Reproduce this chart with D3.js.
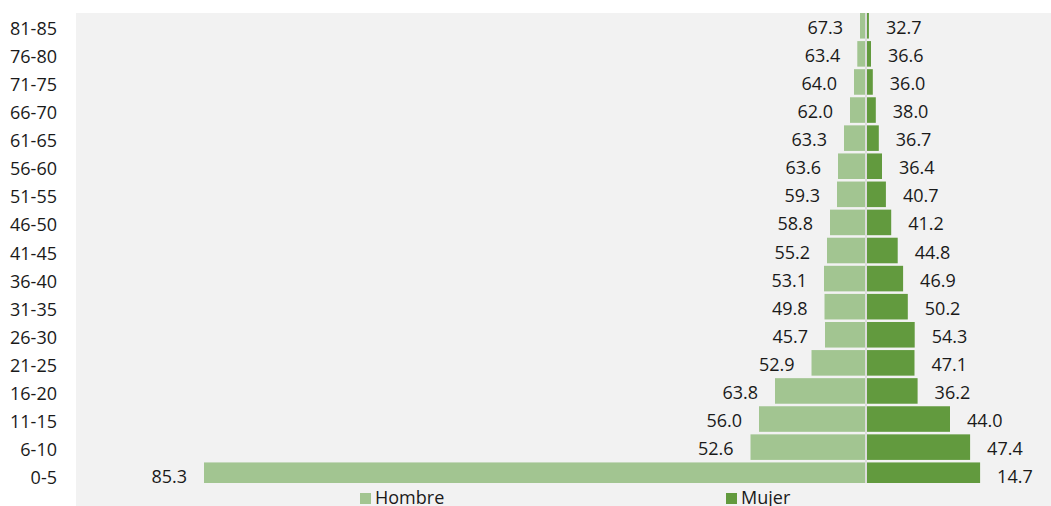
<!DOCTYPE html>
<html>
<head>
<meta charset="utf-8">
<script src="https://cdn.jsdelivr.net/npm/d3@7"></script>
<style>
  html, body { margin: 0; padding: 0; background: #ffffff; }
  svg { display: block; font-family: "Open Sans", "Noto Sans", sans-serif; }
</style>
</head>
<body>
<svg id="chart" width="1051" height="506"></svg>
<script>
// Age groups, top to bottom
const ageGroups = ["81-85","76-80","71-75","66-70","61-65","56-60","51-55","46-50","41-45","36-40","31-35","26-30","21-25","16-20","11-15","6-10","0-5"];
// Bar sizes (estimated population units)
const hombreValues = [6.0, 8.7, 12.0, 16.0, 22.0, 28.0, 29.0, 36.0, 39.0, 42.0, 41.5, 41.0, 54.5, 91.0, 107.0, 115.5, 662.0];
const mujerValues  = [2.9, 5.0, 6.8, 9.8, 12.8, 16.0, 19.9, 25.2, 31.7, 37.1, 41.8, 48.7, 48.5, 51.6, 84.0, 104.1, 114.1];
// Percentage labels
const hombreLabels = ["67.3","63.4","64.0","62.0","63.3","63.6","59.3","58.8","55.2","53.1","49.8","45.7","52.9","63.8","56.0","52.6","85.3"];
const mujerLabels  = ["32.7","36.6","36.0","38.0","36.7","36.4","40.7","41.2","44.8","46.9","50.2","54.3","47.1","36.2","44.0","47.4","14.7"];
const seriesNames = ["Hombre", "Mujer"];
const seriesColors = ["#a2c591", "#629a3e"];

const W = 1051, H = 506;
const plotLeft = 76, plotTop = 13, plotBottom = 483;
const svg = d3.select("#chart");

// background
svg.append("rect").attr("x", plotLeft).attr("y", plotTop)
  .attr("width", W - plotLeft).attr("height", H - plotTop).attr("fill", "#f2f2f2");

const x = d3.scaleLinear().domain([-790, 185]).range([plotLeft, W]);
const y = d3.scaleBand().domain(ageGroups).range([13, 488]).paddingInner(0.09).paddingOuter(0);

svg.append("clipPath").attr("id", "plotclip").append("rect")
  .attr("x", plotLeft).attr("y", plotTop).attr("width", W - plotLeft).attr("height", plotBottom - plotTop);

const plot = svg.append("g").attr("clip-path", "url(#plotclip)");

const rows = ageGroups.map((g, i) => ({ g, h: hombreValues[i], m: mujerValues[i], hl: hombreLabels[i], ml: mujerLabels[i] }));

plot.selectAll("rect.h").data(rows).join("rect").attr("class", "h")
  .attr("x", d => x(-d.h)).attr("y", d => y(d.g))
  .attr("width", d => x(0) - x(-d.h)).attr("height", y.bandwidth())
  .attr("fill", seriesColors[0]);

plot.selectAll("rect.m").data(rows).join("rect").attr("class", "m")
  .attr("x", x(0)).attr("y", d => y(d.g))
  .attr("width", d => x(d.m) - x(0)).attr("height", y.bandwidth())
  .attr("fill", seriesColors[1]);

// center line
plot.append("line").attr("x1", x(0)).attr("x2", x(0)).attr("y1", plotTop).attr("y2", plotBottom)
  .attr("stroke", "#dcdcdc").attr("stroke-width", 2);

// value labels
const labelFont = 18;
svg.selectAll("text.hl").data(rows).join("text").attr("class", "hl")
  .attr("x", d => x(-d.h) - 17).attr("y", d => y(d.g) + y.bandwidth() / 2 + 1)
  .attr("text-anchor", "end").attr("dominant-baseline", "central")
  .attr("font-size", labelFont).attr("fill", "#1a1a1a").text(d => d.hl);

svg.selectAll("text.ml").data(rows).join("text").attr("class", "ml")
  .attr("x", d => x(d.m) + 17).attr("y", d => y(d.g) + y.bandwidth() / 2 + 1)
  .attr("text-anchor", "start").attr("dominant-baseline", "central")
  .attr("font-size", labelFont).attr("fill", "#1a1a1a").text(d => d.ml);

// y axis
const yAxis = d3.axisLeft(y).tickSize(0).tickPadding(0);
const ga = svg.append("g").attr("transform", "translate(57,0)").call(yAxis);
ga.select(".domain").remove();
ga.selectAll("text").attr("font-size", labelFont).attr("fill", "#1a1a1a")
  .attr("font-family", "'Open Sans', 'Noto Sans', sans-serif").attr("dy", null)
  .attr("dominant-baseline", "central").attr("y", 2);

// legend
const legendX = [360, 726];
const leg = svg.selectAll("g.leg").data(seriesNames).join("g").attr("class", "leg")
  .attr("transform", (d, i) => `translate(${legendX[i]},0)`);
leg.append("rect").attr("x", 0).attr("y", 493).attr("width", 11).attr("height", 11)
  .attr("fill", (d, i) => seriesColors[i]);
leg.append("text").attr("x", 15).attr("y", 503.5).attr("font-size", labelFont)
  .attr("fill", "#1a1a1a").text(d => d);
</script>
</body>
</html>
